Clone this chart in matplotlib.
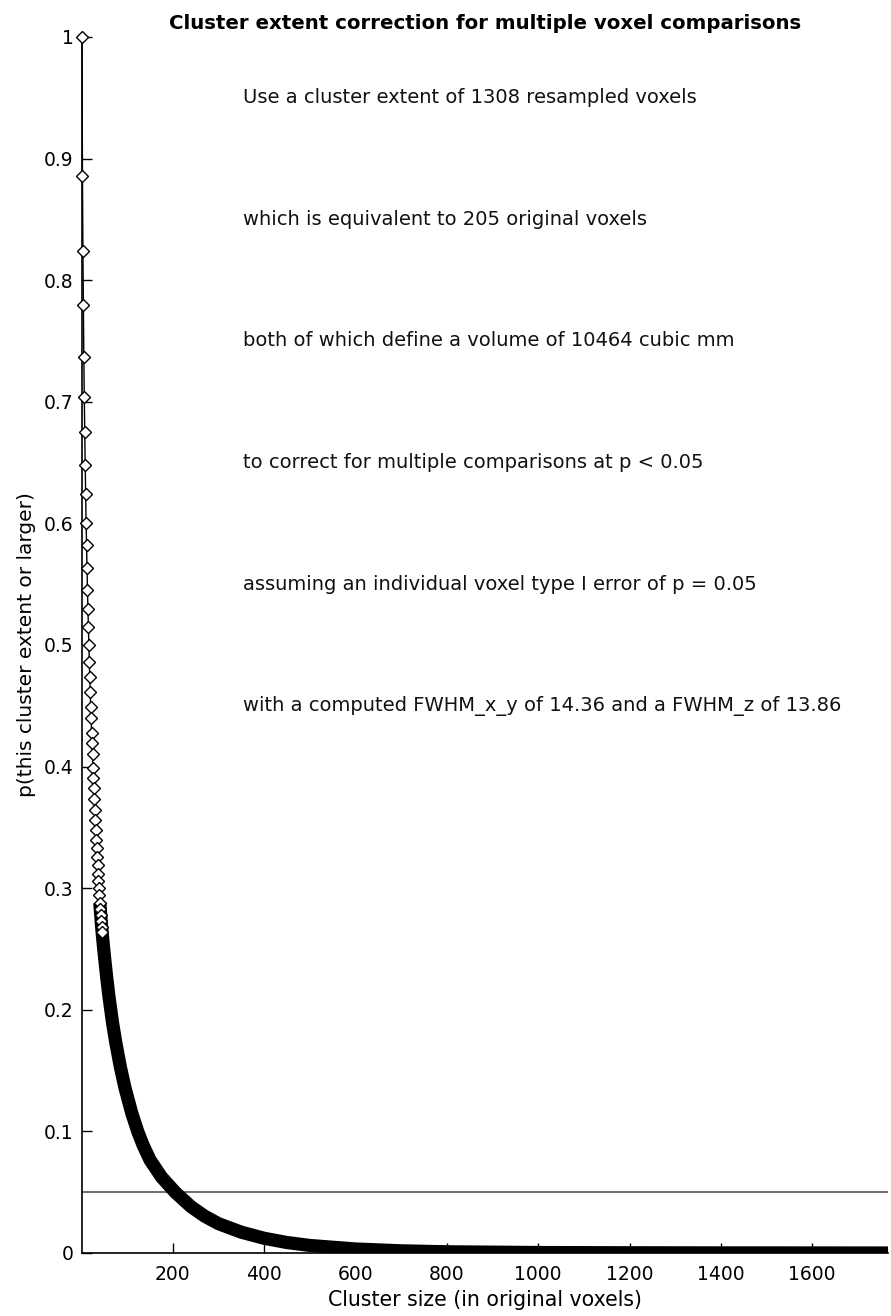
import matplotlib
matplotlib.use("Agg")
import matplotlib.pyplot as plt
import numpy as np

# p(cluster >= size)
early_sizes = list(range(1, 46))
early_p = [1.000, 0.886, 0.824, 0.780, 0.737, 0.704, 0.675, 0.648, 0.624, 0.600,
           0.582, 0.563, 0.545, 0.530, 0.515, 0.500, 0.486, 0.474, 0.461, 0.449,
           0.440, 0.428, 0.419, 0.410, 0.399, 0.391, 0.382, 0.373, 0.364, 0.356,
           0.348, 0.340, 0.333, 0.326, 0.319, 0.312, 0.306, 0.300, 0.294, 0.288,
           0.283, 0.278, 0.273, 0.268, 0.264]

tail_sizes = [48, 51, 55, 60, 64, 68, 75, 85, 95, 110, 123, 135,
              150, 175, 205, 240, 270, 300, 350, 400, 450, 500, 600, 700, 800,
              1000, 1200, 1400, 1600, 1766]
tail_p = [0.252, 0.241, 0.227, 0.211, 0.200, 0.189, 0.173, 0.153, 0.136, 0.115,
          0.100, 0.0885, 0.0765, 0.0625, 0.0500, 0.0380, 0.0302, 0.0241, 0.0171,
          0.0121, 0.0086, 0.0062, 0.0033, 0.0018, 0.0010, 0.0004, 0.0002, 0.0001,
          0.00005, 0.0]

alpha_level = 0.05
x_max = 1766

title = "Cluster extent correction for multiple voxel comparisons"
notes = [
    "Use a cluster extent of 1308 resampled voxels",
    "which is equivalent to 205 original voxels",
    "both of which define a volume of 10464 cubic mm",
    "to correct for multiple comparisons at p < 0.05",
    "assuming an individual voxel type I error of p = 0.05",
    "with a computed FWHM_x_y of 14.36 and a FWHM_z of 13.86",
]
note_p = [0.95, 0.85, 0.75, 0.65, 0.55, 0.45]
note_x = 353

plt.rcParams["font.family"] = ["DejaVu Sans"]

fig = plt.figure(figsize=(8.91, 13.16), dpi=100)
ax = fig.add_axes([82 / 891, 63 / 1316, 806 / 891, 1216 / 1316])

# open diamonds where the steps are still distinguishable
ax.plot(early_sizes, early_p, color="black", lw=1, marker="D", ms=6.5,
        mfc="white", mec="black", mew=1, zorder=4, clip_on=False)
# past that the markers pile up into a solid band
band_x = early_sizes[-6:] + tail_sizes
band_p = early_p[-6:] + tail_p
ax.plot(band_x, band_p, color="black", lw=9.5, solid_capstyle="butt",
        solid_joinstyle="round", zorder=3)
ax.plot([1, x_max], [alpha_level, alpha_level], color="#555555", lw=1.2, zorder=1)

for txt, yv in zip(notes, note_p):
    ax.text(note_x, yv, txt, fontsize=14, va="center", ha="left", color="#111111")

ax.set_xlim(1, x_max)
ax.set_ylim(0, 1)
ax.set_xticks(np.arange(200, 1601, 200))
ax.set_yticks(np.arange(0, 1.01, 0.1))
ax.set_yticklabels(["0", "0.1", "0.2", "0.3", "0.4", "0.5", "0.6", "0.7", "0.8", "0.9", "1"])
ax.tick_params(direction="in", length=7, width=1, labelsize=13.5)
ax.tick_params(axis="x", pad=9)
ax.tick_params(axis="y", pad=6)
ax.spines["top"].set_visible(False)
ax.spines["right"].set_visible(False)
for s in ("left", "bottom"):
    ax.spines[s].set_linewidth(1.2)

ax.set_title(title, fontsize=14.2, fontweight="bold", pad=6)
ax.set_xlabel("Cluster size (in original voxels)", fontsize=14.8, labelpad=4)
ax.set_ylabel("p(this cluster extent or larger)", fontsize=14.5, labelpad=6)

fig.savefig("out.png", dpi=100)
